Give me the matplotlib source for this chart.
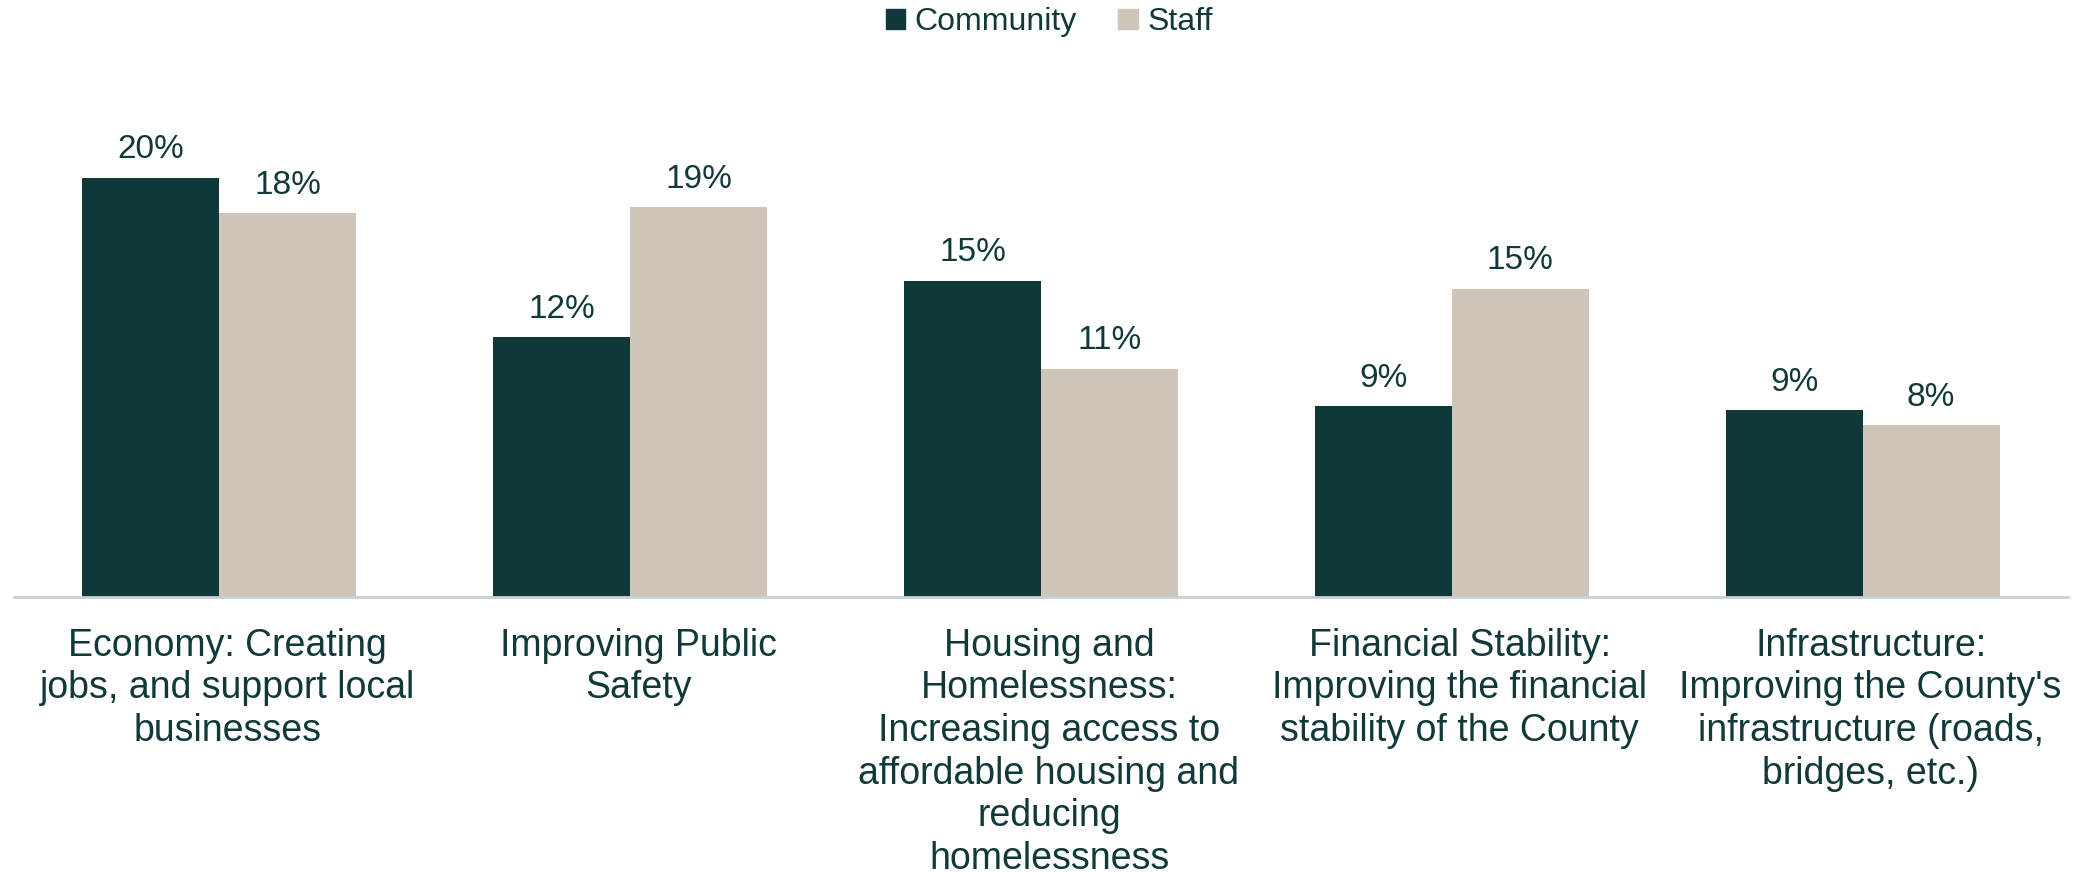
import matplotlib
matplotlib.use("Agg")
import matplotlib.pyplot as plt
from matplotlib.patches import Patch
import matplotlib.transforms as mtrans
import numpy as np

# survey results: share of responses per priority area (%)
categories = [
    "Economy: Creating\njobs, and support local\nbusinesses",
    "Improving Public\nSafety",
    "Housing and\nHomelessness:\nIncreasing access to\naffordable housing and\nreducing\nhomelessness",
    "Financial Stability:\nImproving the financial\nstability of the County",
    "Infrastructure:\nImproving the County's\ninfrastructure (roads,\nbridges, etc.)",
]
community = [20.0, 12.4, 15.1, 9.1, 8.9]
staff = [18.3, 18.6, 10.9, 14.7, 8.2]
series_names = ["Community", "Staff"]

dark = "#103838"
sand = "#cfc6b9"
text_col = "#12393a"

plt.rcParams["font.family"] = ["Liberation Sans", "DejaVu Sans"]

fig = plt.figure(figsize=(20.86, 8.72), dpi=100)
ax = fig.add_axes([14 / 2086, 1 - 597 / 872, (2068 - 14) / 2086, 524 / 872])

x = np.arange(len(categories))
w = 1 / 3
b1 = ax.bar(x - w / 2, community, width=w, color=dark, edgecolor="none")
b2 = ax.bar(x + w / 2, staff, width=w, color=sand, edgecolor="none")

for bars, vals in [(b1, community), (b2, staff)]:
    for rect, v in zip(bars, vals):
        ax.annotate(f"{v:.0f}%", (rect.get_x() + rect.get_width() / 2, v),
                    xytext=(0, 9), textcoords="offset points",
                    ha="center", va="bottom", fontsize=24, color=text_col)

ax.set_xlim(-0.5, len(categories) - 0.5)
ax.set_ylim(0, 25)
ax.set_xticks(x)
ax.set_xticklabels(categories, fontsize=27, color=text_col, linespacing=1.24)
ax.tick_params(axis="x", length=0, pad=22)
# nudge category labels a little to the right
shift = mtrans.ScaledTranslation(8 / 100, 0, fig.dpi_scale_trans)
for lbl in ax.get_xticklabels():
    lbl.set_transform(lbl.get_transform() + shift)
ax.set_yticks([])
for side in ["left", "right", "top"]:
    ax.spines[side].set_visible(False)
ax.spines["bottom"].set_color("#c8d0d4")
ax.spines["bottom"].set_linewidth(2)

handles = [Patch(color=dark), Patch(color=sand)]
leg = fig.legend(handles, series_names, loc="upper center", bbox_to_anchor=(0.503, 1.025),
                 ncol=2, frameon=False, fontsize=23, handlelength=0.6, handleheight=0.6,
                 handletextpad=0.3, columnspacing=1.3)
for t in leg.get_texts():
    t.set_color(text_col)

fig.savefig("out.png", dpi=100)
